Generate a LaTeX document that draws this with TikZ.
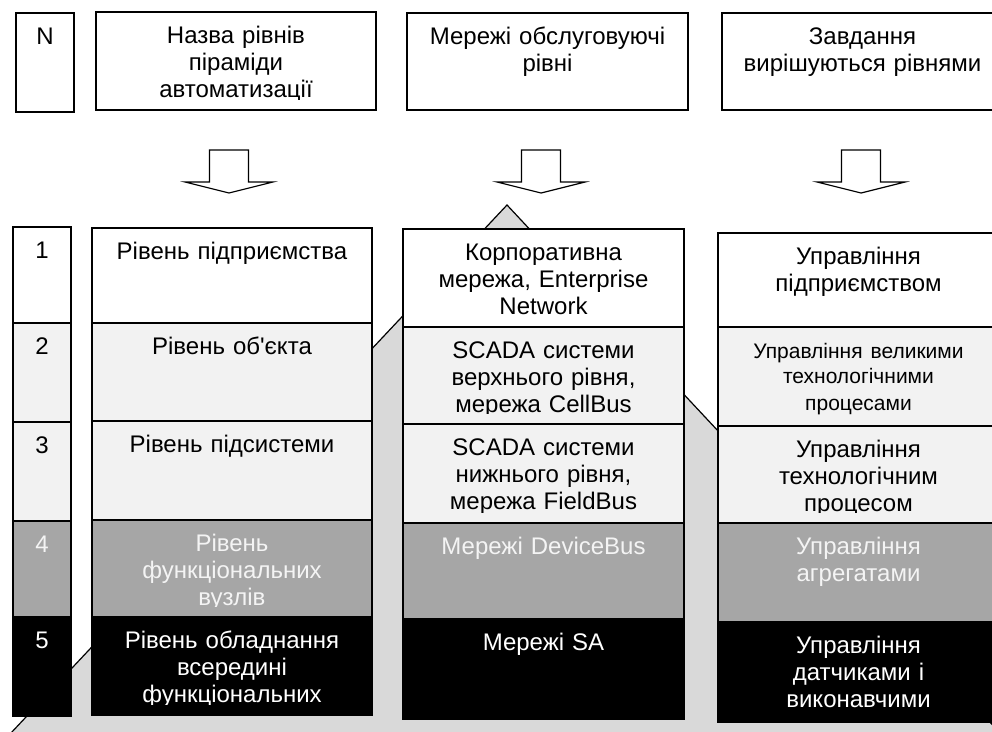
\documentclass[tikz,border=0pt]{standalone}
\usepackage{fontspec}
\setmainfont{Liberation Sans}
\newfontfamily\uafont{Liberation Sans}
\definecolor{rowlight}{HTML}{F2F2F2}
\definecolor{rowmid}{HTML}{A6A6A6}
\definecolor{trigrey}{HTML}{D9D9D9}
\definecolor{txtlight}{HTML}{F4F4F4}
\tikzset{
  cellline/.style={draw=black, line width=1.2pt},
  txt/.style={anchor=north, inner sep=0pt, align=center, text width=#1,
              font=\uafont\fontsize{24}{26.8}\selectfont},
  arrowshape/.style={draw=black, fill=white, line width=1.2pt, line join=miter},
  pyramid/.style={draw=black, fill=trigrey, line width=1.2pt},
}
% #1 name, #2 x1, #3 y1, #4 x2, #5 y2, #6 fill, #7 text colour, #8 text
\newcommand{\mycell}[8]{%
  \fill[#6] (#2,#3) rectangle (#4,#5);
  \begin{scope}
    \clip (#2,#3) rectangle (#4,{#5-11});
    \node[txt={#4-#2-6pt}, text=#7] (#1) at ({(#2+#4)/2},{#3+13}) {\strut #8};
  \end{scope}
  \draw[cellline] (#2,#3) rectangle (#4,#5);
}
% block arrow, #1 centre x
\newcommand{\blockarrow}[1]{%
  \draw[arrowshape] ({#1-19.5},150) -- ({#1+19.5},150) -- ({#1+19.5},182)
     -- ({#1+44},182) -- (#1,193) -- ({#1-44},182) -- ({#1-19.5},182) -- cycle;
}
\begin{document}
\begin{tikzpicture}[x=1pt,y=-1pt]
\useasboundingbox (0,0) rectangle (992,731);
\clip (0,0) rectangle (992,731);
\fill[white] (0,0) rectangle (992,731);

% pyramid in the background
\draw[pyramid] (507,205) -- (-5,750) -- (1016,750) -- cycle;

% header boxes
\mycell{hN}{16}{13}{74}{112}{white}{black}{N}
\mycell{h1}{96}{12}{376}{110}{white}{black}{Назва рівнів\\піраміди\\автоматизації}
\mycell{h2}{407}{13}{688}{110}{white}{black}{Мережі обслуговуючі\\рівні}
\mycell{h3}{722}{13}{1003}{110}{white}{black}{Завдання\\вирішуються рівнями}

% block arrows
\blockarrow{229}
\blockarrow{541}
\blockarrow{861}

% number column
\mycell{n1}{13}{227}{71}{323}{white}{black}{1}
\mycell{n2}{13}{323}{71}{422}{rowlight}{black}{2}
\mycell{n3}{13}{422}{71}{521}{rowlight}{black}{3}
\mycell{n4}{13}{521}{71}{617}{rowmid}{txtlight}{4}
\mycell{n5}{13}{617}{71}{716}{black}{white}{5}

% column 1
\mycell{a1}{92}{228}{372}{323}{white}{black}{Рівень підприємства}
\mycell{a2}{92}{323}{372}{421}{rowlight}{black}{Рівень об'єкта}
\mycell{a3}{92}{421}{372}{520}{rowlight}{black}{Рівень підсистеми}
\mycell{a4}{92}{520}{372}{617}{rowmid}{txtlight}{Рівень\\функціональних\\вузлів}
\mycell{a5}{92}{617}{372}{715}{black}{white}{Рівень обладнання\\всередині\\функціональних}

% column 2
\mycell{b1}{403}{229}{684}{327}{white}{black}{Корпоративна\\мережа, Enterprise\\Network}
\mycell{b2}{403}{327}{684}{424}{rowlight}{black}{SCADA системи\\верхнього рівня,\\мережа CellBus}
\mycell{b3}{403}{424}{684}{523}{rowlight}{black}{SCADA системи\\нижнього рівня,\\мережа FieldBus}
\mycell{b4}{403}{523}{684}{619}{rowmid}{txtlight}{Мережі DeviceBus}
\mycell{b5}{403}{619}{684}{719}{black}{white}{Мережі SA}

% column 3
\mycell{c1}{718}{233}{999}{327}{white}{black}{Управління\\підприємством}
\mycell{c2}{718}{327}{999}{426}{rowlight}{black}{\fontsize{21}{25}\selectfont\strut Управління великими\\технологічними\\процесами}
\mycell{c3}{718}{426}{999}{523}{rowlight}{black}{Управління\\технологічним\\процесом}
\mycell{c4}{718}{523}{999}{622}{rowmid}{txtlight}{Управління\\агрегатами}
\mycell{c5}{718}{622}{999}{722}{black}{white}{Управління\\датчиками і\\виконавчими}
\draw[line width=2.2pt] (718,523) -- (999,523);
\end{tikzpicture}
\end{document}
